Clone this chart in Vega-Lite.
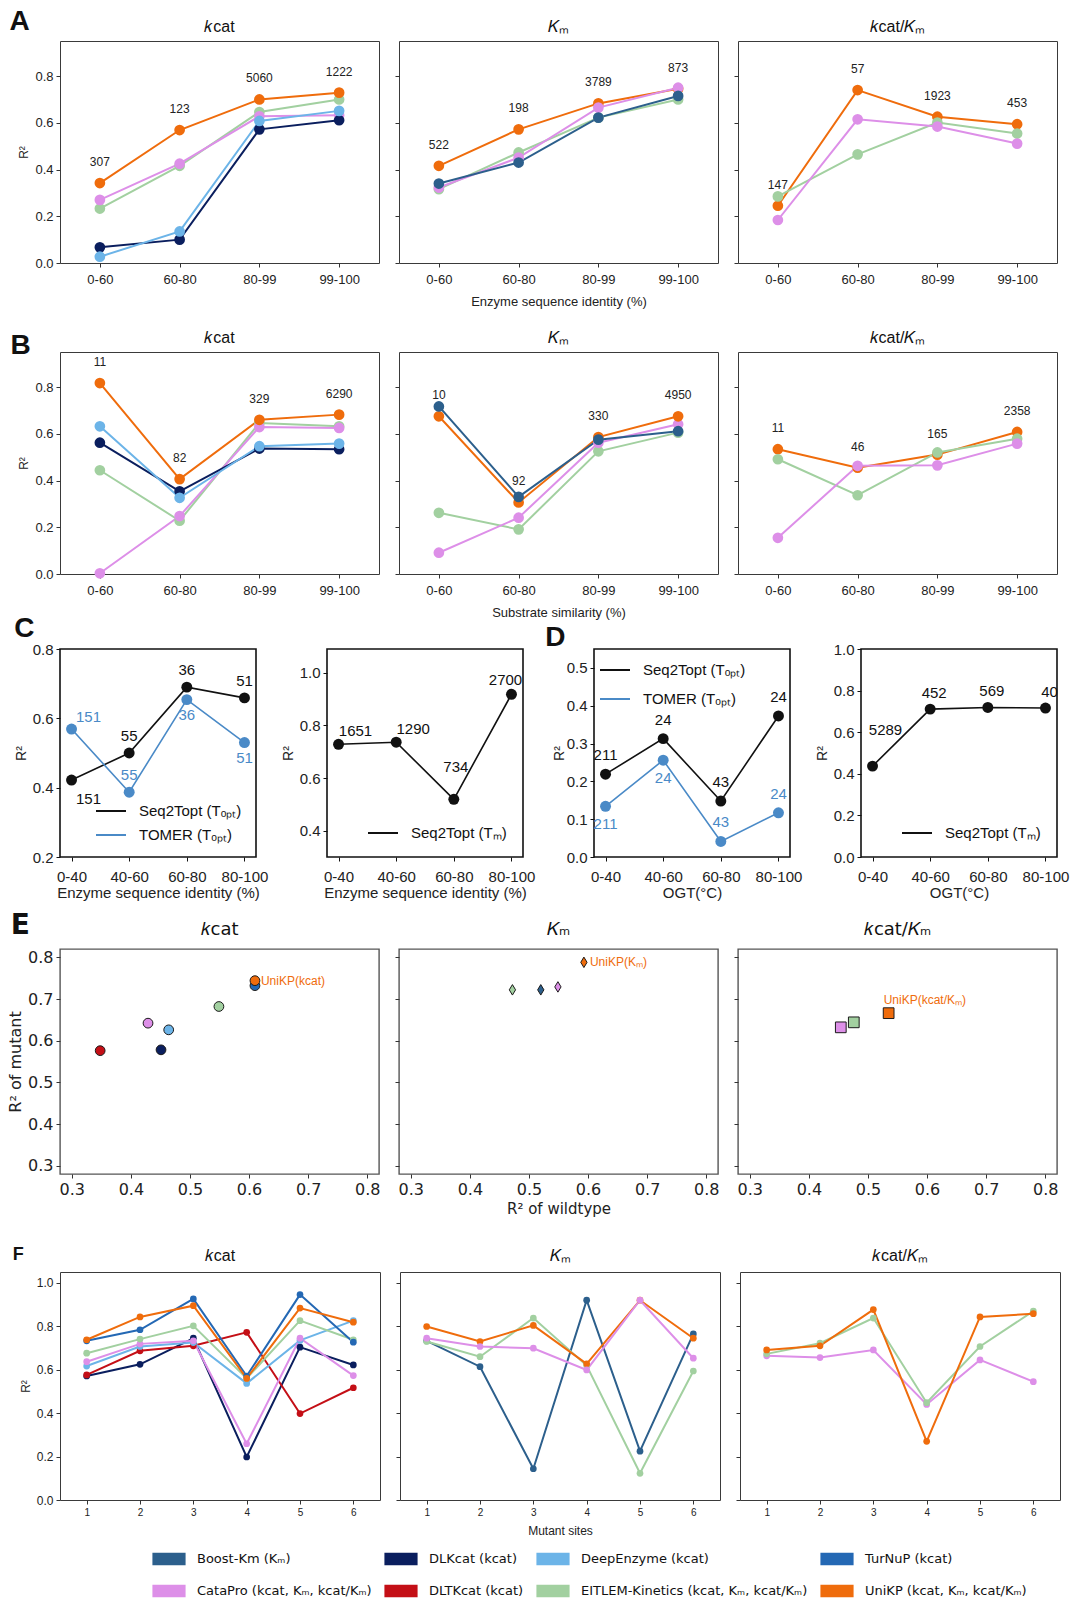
{
 "$schema": "https://vega.github.io/schema/vega-lite/v6.json",
 "background": "white",
 "padding": {"left": 6, "top": 7, "right": 4, "bottom": 2},
 "config": {
  "font": "Liberation Sans",
  "view": {"stroke": "#3a3a3a", "strokeWidth": 1},
  "axis": {"grid": false, "domain": false, "tickColor": "#333", "tickSize": 4, "tickWidth": 1, "labelColor": "#222", "titleColor": "#222", "titleFontWeight": "normal", "labelFont": "Liberation Sans", "titleFont": "Liberation Sans", "labelPadding": 3},
  "title": {"fontWeight": "normal", "color": "#111", "font": "Liberation Sans"},
  "legend": {"labelFont": "Liberation Sans", "labelColor": "#111"}
 },
 "datasets": {
  "ab": [
   {"g":"A-kcat","model":"EITLEM-Kinetics","cat":"0-60","r2":0.233},{"g":"A-kcat","model":"EITLEM-Kinetics","cat":"60-80","r2":0.416},{"g":"A-kcat","model":"EITLEM-Kinetics","cat":"80-99","r2":0.646},{"g":"A-kcat","model":"EITLEM-Kinetics","cat":"99-100","r2":0.700},
   {"g":"A-kcat","model":"CataPro","cat":"0-60","r2":0.270},{"g":"A-kcat","model":"CataPro","cat":"60-80","r2":0.425},{"g":"A-kcat","model":"CataPro","cat":"80-99","r2":0.628},{"g":"A-kcat","model":"CataPro","cat":"99-100","r2":0.632},
   {"g":"A-kcat","model":"DLKcat","cat":"0-60","r2":0.067},{"g":"A-kcat","model":"DLKcat","cat":"60-80","r2":0.100},{"g":"A-kcat","model":"DLKcat","cat":"80-99","r2":0.572},{"g":"A-kcat","model":"DLKcat","cat":"99-100","r2":0.611},
   {"g":"A-kcat","model":"DeepEnzyme","cat":"0-60","r2":0.027},{"g":"A-kcat","model":"DeepEnzyme","cat":"60-80","r2":0.135},{"g":"A-kcat","model":"DeepEnzyme","cat":"80-99","r2":0.608},{"g":"A-kcat","model":"DeepEnzyme","cat":"99-100","r2":0.651},
   {"g":"A-kcat","model":"UniKP","cat":"0-60","r2":0.342,"n":307},{"g":"A-kcat","model":"UniKP","cat":"60-80","r2":0.569,"n":123},{"g":"A-kcat","model":"UniKP","cat":"80-99","r2":0.700,"n":5060},{"g":"A-kcat","model":"UniKP","cat":"99-100","r2":0.729,"n":1222},
   {"g":"A-Km","model":"UniKP","cat":"0-60","r2":0.416,"n":522},{"g":"A-Km","model":"UniKP","cat":"60-80","r2":0.572,"n":198},{"g":"A-Km","model":"UniKP","cat":"80-99","r2":0.683,"n":3789},{"g":"A-Km","model":"UniKP","cat":"99-100","r2":0.746,"n":873},
   {"g":"A-Km","model":"EITLEM-Kinetics","cat":"0-60","r2":0.316},{"g":"A-Km","model":"EITLEM-Kinetics","cat":"60-80","r2":0.473},{"g":"A-Km","model":"EITLEM-Kinetics","cat":"80-99","r2":0.622},{"g":"A-Km","model":"EITLEM-Kinetics","cat":"99-100","r2":0.700},
   {"g":"A-Km","model":"CataPro","cat":"0-60","r2":0.323},{"g":"A-Km","model":"CataPro","cat":"60-80","r2":0.451},{"g":"A-Km","model":"CataPro","cat":"80-99","r2":0.665},{"g":"A-Km","model":"CataPro","cat":"99-100","r2":0.750},
   {"g":"A-Km","model":"Boost-Km","cat":"0-60","r2":0.340},{"g":"A-Km","model":"Boost-Km","cat":"60-80","r2":0.430},{"g":"A-Km","model":"Boost-Km","cat":"80-99","r2":0.622},{"g":"A-Km","model":"Boost-Km","cat":"99-100","r2":0.715},
   {"g":"A-kk","model":"UniKP","cat":"0-60","r2":0.245,"n":147},{"g":"A-kk","model":"UniKP","cat":"60-80","r2":0.740,"n":57},{"g":"A-kk","model":"UniKP","cat":"80-99","r2":0.626,"n":1923},{"g":"A-kk","model":"UniKP","cat":"99-100","r2":0.594,"n":453},
   {"g":"A-kk","model":"EITLEM-Kinetics","cat":"0-60","r2":0.285},{"g":"A-kk","model":"EITLEM-Kinetics","cat":"60-80","r2":0.465},{"g":"A-kk","model":"EITLEM-Kinetics","cat":"80-99","r2":0.601},{"g":"A-kk","model":"EITLEM-Kinetics","cat":"99-100","r2":0.554},
   {"g":"A-kk","model":"CataPro","cat":"0-60","r2":0.184},{"g":"A-kk","model":"CataPro","cat":"60-80","r2":0.615},{"g":"A-kk","model":"CataPro","cat":"80-99","r2":0.584},{"g":"A-kk","model":"CataPro","cat":"99-100","r2":0.511},
   {"g":"B-kcat","model":"EITLEM-Kinetics","cat":"0-60","r2":0.444},{"g":"B-kcat","model":"EITLEM-Kinetics","cat":"60-80","r2":0.228},{"g":"B-kcat","model":"EITLEM-Kinetics","cat":"80-99","r2":0.646},{"g":"B-kcat","model":"EITLEM-Kinetics","cat":"99-100","r2":0.632},
   {"g":"B-kcat","model":"CataPro","cat":"0-60","r2":0.003},{"g":"B-kcat","model":"CataPro","cat":"60-80","r2":0.248},{"g":"B-kcat","model":"CataPro","cat":"80-99","r2":0.629},{"g":"B-kcat","model":"CataPro","cat":"99-100","r2":0.625},
   {"g":"B-kcat","model":"DLKcat","cat":"0-60","r2":0.562},{"g":"B-kcat","model":"DLKcat","cat":"60-80","r2":0.354},{"g":"B-kcat","model":"DLKcat","cat":"80-99","r2":0.537},{"g":"B-kcat","model":"DLKcat","cat":"99-100","r2":0.534},
   {"g":"B-kcat","model":"DeepEnzyme","cat":"0-60","r2":0.632},{"g":"B-kcat","model":"DeepEnzyme","cat":"60-80","r2":0.326},{"g":"B-kcat","model":"DeepEnzyme","cat":"80-99","r2":0.547},{"g":"B-kcat","model":"DeepEnzyme","cat":"99-100","r2":0.558},
   {"g":"B-kcat","model":"UniKP","cat":"0-60","r2":0.817,"n":11},{"g":"B-kcat","model":"UniKP","cat":"60-80","r2":0.406,"n":82},{"g":"B-kcat","model":"UniKP","cat":"80-99","r2":0.660,"n":329},{"g":"B-kcat","model":"UniKP","cat":"99-100","r2":0.682,"n":6290},
   {"g":"B-Km","model":"EITLEM-Kinetics","cat":"0-60","r2":0.262},{"g":"B-Km","model":"EITLEM-Kinetics","cat":"60-80","r2":0.191},{"g":"B-Km","model":"EITLEM-Kinetics","cat":"80-99","r2":0.525},{"g":"B-Km","model":"EITLEM-Kinetics","cat":"99-100","r2":0.605},
   {"g":"B-Km","model":"CataPro","cat":"0-60","r2":0.091},{"g":"B-Km","model":"CataPro","cat":"60-80","r2":0.241},{"g":"B-Km","model":"CataPro","cat":"80-99","r2":0.562},{"g":"B-Km","model":"CataPro","cat":"99-100","r2":0.641},
   {"g":"B-Km","model":"UniKP","cat":"0-60","r2":0.675,"n":10},{"g":"B-Km","model":"UniKP","cat":"60-80","r2":0.306,"n":92},{"g":"B-Km","model":"UniKP","cat":"80-99","r2":0.586,"n":330},{"g":"B-Km","model":"UniKP","cat":"99-100","r2":0.675,"n":4950},
   {"g":"B-Km","model":"Boost-Km","cat":"0-60","r2":0.717},{"g":"B-Km","model":"Boost-Km","cat":"60-80","r2":0.330},{"g":"B-Km","model":"Boost-Km","cat":"80-99","r2":0.575},{"g":"B-Km","model":"Boost-Km","cat":"99-100","r2":0.611},
   {"g":"B-kk","model":"UniKP","cat":"0-60","r2":0.534,"n":11},{"g":"B-kk","model":"UniKP","cat":"60-80","r2":0.455,"n":46},{"g":"B-kk","model":"UniKP","cat":"80-99","r2":0.511,"n":165},{"g":"B-kk","model":"UniKP","cat":"99-100","r2":0.608,"n":2358},
   {"g":"B-kk","model":"EITLEM-Kinetics","cat":"0-60","r2":0.491},{"g":"B-kk","model":"EITLEM-Kinetics","cat":"60-80","r2":0.337},{"g":"B-kk","model":"EITLEM-Kinetics","cat":"80-99","r2":0.520},{"g":"B-kk","model":"EITLEM-Kinetics","cat":"99-100","r2":0.579},
   {"g":"B-kk","model":"CataPro","cat":"0-60","r2":0.155},{"g":"B-kk","model":"CataPro","cat":"60-80","r2":0.463},{"g":"B-kk","model":"CataPro","cat":"80-99","r2":0.465},{"g":"B-kk","model":"CataPro","cat":"99-100","r2":0.558}
  ],
  "cd": [
   {"g":"C1","s":"Seq2Topt (Tₒₚₜ)","cat":"0-40","r2":0.422,"n":151,"pos":"rb"},{"g":"C1","s":"Seq2Topt (Tₒₚₜ)","cat":"40-60","r2":0.500,"n":55,"pos":"above"},{"g":"C1","s":"Seq2Topt (Tₒₚₜ)","cat":"60-80","r2":0.690,"n":36,"pos":"above"},{"g":"C1","s":"Seq2Topt (Tₒₚₜ)","cat":"80-100","r2":0.659,"n":51,"pos":"above"},
   {"g":"C1","s":"TOMER (Tₒₚₜ)","cat":"0-40","r2":0.569,"n":151,"pos":"ra"},{"g":"C1","s":"TOMER (Tₒₚₜ)","cat":"40-60","r2":0.387,"n":55,"pos":"above"},{"g":"C1","s":"TOMER (Tₒₚₜ)","cat":"60-80","r2":0.654,"n":36,"pos":"below"},{"g":"C1","s":"TOMER (Tₒₚₜ)","cat":"80-100","r2":0.530,"n":51,"pos":"below"},
   {"g":"C2","s":"Seq2Topt (Tₘ)","cat":"0-40","r2":0.728,"n":1651,"pos":"ra"},{"g":"C2","s":"Seq2Topt (Tₘ)","cat":"40-60","r2":0.736,"n":1290,"pos":"ra"},{"g":"C2","s":"Seq2Topt (Tₘ)","cat":"60-80","r2":0.519,"n":734,"pos":"far"},{"g":"C2","s":"Seq2Topt (Tₘ)","cat":"80-100","r2":0.918,"n":2700,"pos":"al"},
   {"g":"D1","s":"Seq2Topt (Tₒₚₜ)","cat":"0-40","r2":0.219,"n":211,"pos":"above"},{"g":"D1","s":"Seq2Topt (Tₒₚₜ)","cat":"40-60","r2":0.313,"n":24,"pos":"above"},{"g":"D1","s":"Seq2Topt (Tₒₚₜ)","cat":"60-80","r2":0.148,"n":43,"pos":"above"},{"g":"D1","s":"Seq2Topt (Tₒₚₜ)","cat":"80-100","r2":0.373,"n":24,"pos":"above"},
   {"g":"D1","s":"TOMER (Tₒₚₜ)","cat":"0-40","r2":0.134,"n":211,"pos":"below"},{"g":"D1","s":"TOMER (Tₒₚₜ)","cat":"40-60","r2":0.256,"n":24,"pos":"below"},{"g":"D1","s":"TOMER (Tₒₚₜ)","cat":"60-80","r2":0.041,"n":43,"pos":"above"},{"g":"D1","s":"TOMER (Tₒₚₜ)","cat":"80-100","r2":0.117,"n":24,"pos":"above"},
   {"g":"D2","s":"Seq2Topt (Tₘ)","cat":"0-40","r2":0.437,"n":5289,"pos":"far"},{"g":"D2","s":"Seq2Topt (Tₘ)","cat":"40-60","r2":0.711,"n":452,"pos":"above"},{"g":"D2","s":"Seq2Topt (Tₘ)","cat":"60-80","r2":0.719,"n":569,"pos":"above"},{"g":"D2","s":"Seq2Topt (Tₘ)","cat":"80-100","r2":0.716,"n":40,"pos":"above"}
  ],
  "e": [
   {"g":"kcat","model":"DLTKcat","wt":0.348,"mut":0.576},{"g":"kcat","model":"DLKcat","wt":0.451,"mut":0.578},{"g":"kcat","model":"DeepEnzyme","wt":0.464,"mut":0.626},{"g":"kcat","model":"CataPro","wt":0.429,"mut":0.642},{"g":"kcat","model":"EITLEM-Kinetics","wt":0.549,"mut":0.682},{"g":"kcat","model":"TurNuP","wt":0.610,"mut":0.732},{"g":"kcat","model":"UniKP","wt":0.610,"mut":0.744,"lab":"UniKP(kcat)"},
   {"g":"Km","model":"EITLEM-Kinetics","wt":0.472,"mut":0.722},{"g":"Km","model":"Boost-Km","wt":0.520,"mut":0.722},{"g":"Km","model":"CataPro","wt":0.549,"mut":0.729},{"g":"Km","model":"UniKP","wt":0.593,"mut":0.788,"lab":"UniKP(Kₘ)"},
   {"g":"kk","model":"CataPro","wt":0.454,"mut":0.632},{"g":"kk","model":"EITLEM-Kinetics","wt":0.476,"mut":0.644},{"g":"kk","model":"UniKP","wt":0.535,"mut":0.666,"lab":"UniKP(kcat/Kₘ)"}
  ],
  "f": [
   {"g":"kcat","model":"DLKcat","site":1,"r2":0.571},{"g":"kcat","model":"DLKcat","site":2,"r2":0.625},{"g":"kcat","model":"DLKcat","site":3,"r2":0.745},{"g":"kcat","model":"DLKcat","site":4,"r2":0.198},{"g":"kcat","model":"DLKcat","site":5,"r2":0.704},{"g":"kcat","model":"DLKcat","site":6,"r2":0.622},
   {"g":"kcat","model":"DLTKcat","site":1,"r2":0.576},{"g":"kcat","model":"DLTKcat","site":2,"r2":0.687},{"g":"kcat","model":"DLTKcat","site":3,"r2":0.710},{"g":"kcat","model":"DLTKcat","site":4,"r2":0.772},{"g":"kcat","model":"DLTKcat","site":5,"r2":0.398},{"g":"kcat","model":"DLTKcat","site":6,"r2":0.517},
   {"g":"kcat","model":"DeepEnzyme","site":1,"r2":0.617},{"g":"kcat","model":"DeepEnzyme","site":2,"r2":0.707},{"g":"kcat","model":"DeepEnzyme","site":3,"r2":0.725},{"g":"kcat","model":"DeepEnzyme","site":4,"r2":0.537},{"g":"kcat","model":"DeepEnzyme","site":5,"r2":0.735},{"g":"kcat","model":"DeepEnzyme","site":6,"r2":0.826},
   {"g":"kcat","model":"CataPro","site":1,"r2":0.637},{"g":"kcat","model":"CataPro","site":2,"r2":0.719},{"g":"kcat","model":"CataPro","site":3,"r2":0.733},{"g":"kcat","model":"CataPro","site":4,"r2":0.259},{"g":"kcat","model":"CataPro","site":5,"r2":0.745},{"g":"kcat","model":"CataPro","site":6,"r2":0.573},
   {"g":"kcat","model":"EITLEM-Kinetics","site":1,"r2":0.676},{"g":"kcat","model":"EITLEM-Kinetics","site":2,"r2":0.741},{"g":"kcat","model":"EITLEM-Kinetics","site":3,"r2":0.802},{"g":"kcat","model":"EITLEM-Kinetics","site":4,"r2":0.560},{"g":"kcat","model":"EITLEM-Kinetics","site":5,"r2":0.826},{"g":"kcat","model":"EITLEM-Kinetics","site":6,"r2":0.738},
   {"g":"kcat","model":"TurNuP","site":1,"r2":0.733},{"g":"kcat","model":"TurNuP","site":2,"r2":0.784},{"g":"kcat","model":"TurNuP","site":3,"r2":0.926},{"g":"kcat","model":"TurNuP","site":4,"r2":0.571},{"g":"kcat","model":"TurNuP","site":5,"r2":0.946},{"g":"kcat","model":"TurNuP","site":6,"r2":0.727},
   {"g":"kcat","model":"UniKP","site":1,"r2":0.738},{"g":"kcat","model":"UniKP","site":2,"r2":0.843},{"g":"kcat","model":"UniKP","site":3,"r2":0.895},{"g":"kcat","model":"UniKP","site":4,"r2":0.560},{"g":"kcat","model":"UniKP","site":5,"r2":0.884},{"g":"kcat","model":"UniKP","site":6,"r2":0.819},
   {"g":"Km","model":"Boost-Km","site":1,"r2":0.733},{"g":"Km","model":"Boost-Km","site":2,"r2":0.614},{"g":"Km","model":"Boost-Km","site":3,"r2":0.144},{"g":"Km","model":"Boost-Km","site":4,"r2":0.920},{"g":"Km","model":"Boost-Km","site":5,"r2":0.225},{"g":"Km","model":"Boost-Km","site":6,"r2":0.765},
   {"g":"Km","model":"EITLEM-Kinetics","site":1,"r2":0.730},{"g":"Km","model":"EITLEM-Kinetics","site":2,"r2":0.660},{"g":"Km","model":"EITLEM-Kinetics","site":3,"r2":0.838},{"g":"Km","model":"EITLEM-Kinetics","site":4,"r2":0.619},{"g":"Km","model":"EITLEM-Kinetics","site":5,"r2":0.123},{"g":"Km","model":"EITLEM-Kinetics","site":6,"r2":0.594},
   {"g":"Km","model":"UniKP","site":1,"r2":0.799},{"g":"Km","model":"UniKP","site":2,"r2":0.730},{"g":"Km","model":"UniKP","site":3,"r2":0.804},{"g":"Km","model":"UniKP","site":4,"r2":0.627},{"g":"Km","model":"UniKP","site":5,"r2":0.920},{"g":"Km","model":"UniKP","site":6,"r2":0.745},
   {"g":"Km","model":"CataPro","site":1,"r2":0.745},{"g":"Km","model":"CataPro","site":2,"r2":0.707},{"g":"Km","model":"CataPro","site":3,"r2":0.699},{"g":"Km","model":"CataPro","site":4,"r2":0.599},{"g":"Km","model":"CataPro","site":5,"r2":0.920},{"g":"Km","model":"CataPro","site":6,"r2":0.653},
   {"g":"kk","model":"CataPro","site":1,"r2":0.664},{"g":"kk","model":"CataPro","site":2,"r2":0.656},{"g":"kk","model":"CataPro","site":3,"r2":0.691},{"g":"kk","model":"CataPro","site":4,"r2":0.440},{"g":"kk","model":"CataPro","site":5,"r2":0.645},{"g":"kk","model":"CataPro","site":6,"r2":0.545},
   {"g":"kk","model":"EITLEM-Kinetics","site":1,"r2":0.673},{"g":"kk","model":"EITLEM-Kinetics","site":2,"r2":0.722},{"g":"kk","model":"EITLEM-Kinetics","site":3,"r2":0.838},{"g":"kk","model":"EITLEM-Kinetics","site":4,"r2":0.448},{"g":"kk","model":"EITLEM-Kinetics","site":5,"r2":0.707},{"g":"kk","model":"EITLEM-Kinetics","site":6,"r2":0.870},
   {"g":"kk","model":"UniKP","site":1,"r2":0.691},{"g":"kk","model":"UniKP","site":2,"r2":0.710},{"g":"kk","model":"UniKP","site":3,"r2":0.877},{"g":"kk","model":"UniKP","site":4,"r2":0.270},{"g":"kk","model":"UniKP","site":5,"r2":0.843},{"g":"kk","model":"UniKP","site":6,"r2":0.858}
  ]
 },
 "spacing": 20,
 "resolve": {"scale": {"color": "independent"}},
 "vconcat": [
  {
   "title": {"text": "A", "anchor": "start", "frame": "bounds", "fontSize": 28, "fontWeight": "bold", "offset": -17, "dx": -8},
   "bounds": "flush", "spacing": 20,
   "hconcat": [
    {"width": 319, "height": 222, "title": {"text": "𝑘cat", "fontSize": 16, "offset": 6},
     "data": {"name": "ab"}, "transform": [{"filter": "datum.g == 'A-kcat'"}],
     "encoding": {
      "x": {"field": "cat", "type": "ordinal", "scale": {"type": "point", "padding": 0.5, "domain": ["0-60","60-80","80-99","99-100"]}, "axis": {"title": null, "labelAngle": 0, "labelFontSize": 13, "labelPadding": 6}},
      "y": {"field": "r2", "type": "quantitative", "scale": {"domain": [0, 0.95], "nice": false}, "axis": {"title": "R²", "values": [0,0.2,0.4,0.6,0.8], "format": ".1f", "labelFontSize": 13, "titleFontSize": 12}},
      "color": {"field": "model", "type": "nominal", "scale": {"domain": ["Boost-Km","DLKcat","DeepEnzyme","TurNuP","CataPro","DLTKcat","EITLEM-Kinetics","UniKP"], "range": ["#2c5f8c","#0a1e5e","#6cb4e8","#2468b4","#dd8fe8","#c40f16","#a2d0a0","#ef6c0c"]}, "legend": null}
     },
     "layer": [
      {"mark": {"type": "line", "strokeWidth": 2}},
      {"mark": {"type": "circle", "size": 115, "opacity": 1}},
      {"transform": [{"filter": "datum.model == 'UniKP'"}], "mark": {"type": "text", "dy": -21, "fontSize": 12}, "encoding": {"text": {"field": "n", "type": "quantitative", "format": "d"}, "color": {"value": "#222"}}}
     ]},
    {"width": 319, "height": 222, "title": {"text": "𝐾ₘ", "fontSize": 16, "offset": 6},
     "data": {"name": "ab"}, "transform": [{"filter": "datum.g == 'A-Km'"}],
     "encoding": {
      "x": {"field": "cat", "type": "ordinal", "scale": {"type": "point", "padding": 0.5, "domain": ["0-60","60-80","80-99","99-100"]}, "axis": {"title": "Enzyme sequence identity (%)", "labelAngle": 0, "labelFontSize": 13, "labelPadding": 6, "titleFontSize": 13, "titlePadding": 9}},
      "y": {"field": "r2", "type": "quantitative", "scale": {"domain": [0, 0.95], "nice": false}, "axis": {"title": null, "values": [0,0.2,0.4,0.6,0.8], "labels": false}},
      "color": {"field": "model", "type": "nominal", "scale": {"domain": ["Boost-Km","DLKcat","DeepEnzyme","TurNuP","CataPro","DLTKcat","EITLEM-Kinetics","UniKP"], "range": ["#2c5f8c","#0a1e5e","#6cb4e8","#2468b4","#dd8fe8","#c40f16","#a2d0a0","#ef6c0c"]}, "legend": null}
     },
     "layer": [
      {"mark": {"type": "line", "strokeWidth": 2}},
      {"mark": {"type": "circle", "size": 115, "opacity": 1}},
      {"transform": [{"filter": "datum.model == 'UniKP'"}], "mark": {"type": "text", "dy": -21, "fontSize": 12}, "encoding": {"text": {"field": "n", "type": "quantitative", "format": "d"}, "color": {"value": "#222"}}}
     ]},
    {"width": 319, "height": 222, "title": {"text": "𝑘cat/𝐾ₘ", "fontSize": 16, "offset": 6},
     "data": {"name": "ab"}, "transform": [{"filter": "datum.g == 'A-kk'"}],
     "encoding": {
      "x": {"field": "cat", "type": "ordinal", "scale": {"type": "point", "padding": 0.5, "domain": ["0-60","60-80","80-99","99-100"]}, "axis": {"title": null, "labelAngle": 0, "labelFontSize": 13, "labelPadding": 6}},
      "y": {"field": "r2", "type": "quantitative", "scale": {"domain": [0, 0.95], "nice": false}, "axis": {"title": null, "values": [0,0.2,0.4,0.6,0.8], "labels": false}},
      "color": {"field": "model", "type": "nominal", "scale": {"domain": ["Boost-Km","DLKcat","DeepEnzyme","TurNuP","CataPro","DLTKcat","EITLEM-Kinetics","UniKP"], "range": ["#2c5f8c","#0a1e5e","#6cb4e8","#2468b4","#dd8fe8","#c40f16","#a2d0a0","#ef6c0c"]}, "legend": null}
     },
     "layer": [
      {"mark": {"type": "line", "strokeWidth": 2}},
      {"mark": {"type": "circle", "size": 115, "opacity": 1}},
      {"transform": [{"filter": "datum.model == 'UniKP'"}], "mark": {"type": "text", "dy": -21, "fontSize": 12}, "encoding": {"text": {"field": "n", "type": "quantitative", "format": "d"}, "color": {"value": "#222"}}}
     ]}
   ]
  },
  {
   "spacing": -6,
   "resolve": {"scale": {"color": "independent"}},
   "vconcat": [
    {
     "title": {"text": "B", "anchor": "start", "frame": "bounds", "fontSize": 28, "fontWeight": "bold", "offset": -30, "dx": -7},
     "bounds": "flush", "spacing": 20,
     "hconcat": [
      {"width": 319, "height": 222, "title": {"text": "𝑘cat", "fontSize": 16, "offset": 6},
       "data": {"name": "ab"}, "transform": [{"filter": "datum.g == 'B-kcat'"}],
       "encoding": {
        "x": {"field": "cat", "type": "ordinal", "scale": {"type": "point", "padding": 0.5, "domain": ["0-60","60-80","80-99","99-100"]}, "axis": {"title": null, "labelAngle": 0, "labelFontSize": 13, "labelPadding": 6}},
        "y": {"field": "r2", "type": "quantitative", "scale": {"domain": [0, 0.95], "nice": false}, "axis": {"title": "R²", "values": [0,0.2,0.4,0.6,0.8], "format": ".1f", "labelFontSize": 13, "titleFontSize": 12}},
        "color": {"field": "model", "type": "nominal", "scale": {"domain": ["Boost-Km","DLKcat","DeepEnzyme","TurNuP","CataPro","DLTKcat","EITLEM-Kinetics","UniKP"], "range": ["#2c5f8c","#0a1e5e","#6cb4e8","#2468b4","#dd8fe8","#c40f16","#a2d0a0","#ef6c0c"]}, "legend": null}
       },
       "layer": [
        {"mark": {"type": "line", "strokeWidth": 2}},
        {"mark": {"type": "circle", "size": 115, "opacity": 1}},
        {"transform": [{"filter": "datum.model == 'UniKP'"}], "mark": {"type": "text", "dy": -21, "fontSize": 12}, "encoding": {"text": {"field": "n", "type": "quantitative", "format": "d"}, "color": {"value": "#222"}}}
       ]},
      {"width": 319, "height": 222, "title": {"text": "𝐾ₘ", "fontSize": 16, "offset": 6},
       "data": {"name": "ab"}, "transform": [{"filter": "datum.g == 'B-Km'"}],
       "encoding": {
        "x": {"field": "cat", "type": "ordinal", "scale": {"type": "point", "padding": 0.5, "domain": ["0-60","60-80","80-99","99-100"]}, "axis": {"title": "Substrate similarity (%)", "labelAngle": 0, "labelFontSize": 13, "labelPadding": 6, "titleFontSize": 13, "titlePadding": 9}},
        "y": {"field": "r2", "type": "quantitative", "scale": {"domain": [0, 0.95], "nice": false}, "axis": {"title": null, "values": [0,0.2,0.4,0.6,0.8], "labels": false}},
        "color": {"field": "model", "type": "nominal", "scale": {"domain": ["Boost-Km","DLKcat","DeepEnzyme","TurNuP","CataPro","DLTKcat","EITLEM-Kinetics","UniKP"], "range": ["#2c5f8c","#0a1e5e","#6cb4e8","#2468b4","#dd8fe8","#c40f16","#a2d0a0","#ef6c0c"]}, "legend": null}
       },
       "layer": [
        {"mark": {"type": "line", "strokeWidth": 2}},
        {"mark": {"type": "circle", "size": 115, "opacity": 1}},
        {"transform": [{"filter": "datum.model == 'UniKP'"}], "mark": {"type": "text", "dy": -21, "fontSize": 12}, "encoding": {"text": {"field": "n", "type": "quantitative", "format": "d"}, "color": {"value": "#222"}}}
       ]},
      {"width": 319, "height": 222, "title": {"text": "𝑘cat/𝐾ₘ", "fontSize": 16, "offset": 6},
       "data": {"name": "ab"}, "transform": [{"filter": "datum.g == 'B-kk'"}],
       "encoding": {
        "x": {"field": "cat", "type": "ordinal", "scale": {"type": "point", "padding": 0.5, "domain": ["0-60","60-80","80-99","99-100"]}, "axis": {"title": null, "labelAngle": 0, "labelFontSize": 13, "labelPadding": 6}},
        "y": {"field": "r2", "type": "quantitative", "scale": {"domain": [0, 0.95], "nice": false}, "axis": {"title": null, "values": [0,0.2,0.4,0.6,0.8], "labels": false}},
        "color": {"field": "model", "type": "nominal", "scale": {"domain": ["Boost-Km","DLKcat","DeepEnzyme","TurNuP","CataPro","DLTKcat","EITLEM-Kinetics","UniKP"], "range": ["#2c5f8c","#0a1e5e","#6cb4e8","#2468b4","#dd8fe8","#c40f16","#a2d0a0","#ef6c0c"]}, "legend": null}
       },
       "layer": [
        {"mark": {"type": "line", "strokeWidth": 2}},
        {"mark": {"type": "circle", "size": 115, "opacity": 1}},
        {"transform": [{"filter": "datum.model == 'UniKP'"}], "mark": {"type": "text", "dy": -21, "fontSize": 12}, "encoding": {"text": {"field": "n", "type": "quantitative", "format": "d"}, "color": {"value": "#222"}}}
       ]}
     ]
    },
    {
     "spacing": 11,
     "resolve": {"scale": {"color": "independent"}},
     "vconcat": [
      {
       "bounds": "flush", "spacing": 71,
       "resolve": {"scale": {"color": "independent"}},
       "hconcat": [
        {"width": 196, "height": 208, "title": {"text": "C", "anchor": "start", "frame": "bounds", "fontSize": 28, "fontWeight": "bold", "offset": -1},
         "view": {"stroke": "#111", "strokeWidth": 1.6},
         "data": {"name": "cd"}, "transform": [{"filter": "datum.g == 'C1'"}],
         "encoding": {
          "x": {"field": "cat", "type": "ordinal", "scale": {"type": "point", "padding": 0.2, "domain": ["0-40","40-60","60-80","80-100"]}, "axis": {"title": "Enzyme sequence identity (%)", "labelAngle": 0, "labelFontSize": 15, "labelPadding": 8, "titleFontSize": 15, "titlePadding": 1, "tickColor": "#111"}},
          "y": {"field": "r2", "type": "quantitative", "scale": {"domain": [0.2, 0.8], "nice": false, "zero": false}, "axis": {"title": "R²", "values": [0.2,0.4,0.6,0.8], "format": ".1f", "labelFontSize": 15, "titleFontSize": 14, "tickColor": "#111"}},
          "color": {"field": "s", "type": "nominal", "scale": {"domain": ["Seq2Topt (Tₒₚₜ)","TOMER (Tₒₚₜ)"], "range": ["#111111","#4a8ac7"]}, "legend": {"orient": "bottom-right", "offset": 14, "title": null, "symbolType": "stroke", "symbolSize": 900, "symbolStrokeWidth": 2, "labelFontSize": 15, "labelOffset": 12, "rowPadding": 0, "padding": 0}}
         },
         "layer": [
          {"mark": {"type": "line", "strokeWidth": 1.6}},
          {"mark": {"type": "circle", "size": 120, "opacity": 1}},
          {"transform": [{"filter": "datum.pos == 'above'"}], "mark": {"type": "text", "dy": -17, "fontSize": 15}, "encoding": {"text": {"field": "n", "type": "quantitative", "format": "d"}}},
          {"transform": [{"filter": "datum.pos == 'below'"}], "mark": {"type": "text", "dy": 15, "fontSize": 15}, "encoding": {"text": {"field": "n", "type": "quantitative", "format": "d"}}},
          {"transform": [{"filter": "datum.pos == 'ra'"}], "mark": {"type": "text", "dx": 17, "dy": -12, "fontSize": 15}, "encoding": {"text": {"field": "n", "type": "quantitative", "format": "d"}}},
          {"transform": [{"filter": "datum.pos == 'rb'"}], "mark": {"type": "text", "dx": 17, "dy": 19, "fontSize": 15}, "encoding": {"text": {"field": "n", "type": "quantitative", "format": "d"}}}
         ]},
        {"width": 196, "height": 208,
         "view": {"stroke": "#111", "strokeWidth": 1.6},
         "data": {"name": "cd"}, "transform": [{"filter": "datum.g == 'C2'"}],
         "encoding": {
          "x": {"field": "cat", "type": "ordinal", "scale": {"type": "point", "padding": 0.2, "domain": ["0-40","40-60","60-80","80-100"]}, "axis": {"title": "Enzyme sequence identity (%)", "labelAngle": 0, "labelFontSize": 15, "labelPadding": 8, "titleFontSize": 15, "titlePadding": 1, "tickColor": "#111"}},
          "y": {"field": "r2", "type": "quantitative", "scale": {"domain": [0.3, 1.09], "nice": false, "zero": false}, "axis": {"title": "R²", "values": [0.4,0.6,0.8,1.0], "format": ".1f", "labelFontSize": 15, "titleFontSize": 14, "tickColor": "#111"}},
          "color": {"field": "s", "type": "nominal", "scale": {"domain": ["Seq2Topt (Tₘ)"], "range": ["#111111"]}, "legend": {"orient": "bottom-right", "offset": 16, "title": null, "symbolType": "stroke", "symbolSize": 900, "symbolStrokeWidth": 2, "labelFontSize": 15, "labelOffset": 12, "padding": 0}}
         },
         "layer": [
          {"mark": {"type": "line", "strokeWidth": 1.6}},
          {"mark": {"type": "circle", "size": 120, "opacity": 1}},
          {"transform": [{"filter": "datum.pos == 'ra'"}], "mark": {"type": "text", "dx": 17, "dy": -13, "fontSize": 15}, "encoding": {"text": {"field": "n", "type": "quantitative", "format": "d"}}},
          {"transform": [{"filter": "datum.pos == 'far'"}], "mark": {"type": "text", "dx": 2, "dy": -32, "fontSize": 15}, "encoding": {"text": {"field": "n", "type": "quantitative", "format": "d"}}},
          {"transform": [{"filter": "datum.pos == 'al'"}], "mark": {"type": "text", "dx": -6, "dy": -14, "fontSize": 15}, "encoding": {"text": {"field": "n", "type": "quantitative", "format": "d"}}}
         ]},
        {"width": 196, "height": 208, "title": {"text": "D", "anchor": "start", "frame": "bounds", "fontSize": 28, "fontWeight": "bold", "offset": -3, "dx": -7},
         "view": {"stroke": "#111", "strokeWidth": 1.6},
         "data": {"name": "cd"}, "transform": [{"filter": "datum.g == 'D1'"}],
         "encoding": {
          "x": {"field": "cat", "type": "ordinal", "scale": {"type": "point", "padding": 0.2, "domain": ["0-40","40-60","60-80","80-100"]}, "axis": {"title": "OGT(°C)", "labelAngle": 0, "labelFontSize": 15, "labelPadding": 8, "titleFontSize": 15, "titlePadding": 1, "tickColor": "#111"}},
          "y": {"field": "r2", "type": "quantitative", "scale": {"domain": [0, 0.55], "nice": false}, "axis": {"title": "R²", "values": [0,0.1,0.2,0.3,0.4,0.5], "format": ".1f", "labelFontSize": 15, "titleFontSize": 14, "titlePadding": 0, "tickColor": "#111"}},
          "color": {"field": "s", "type": "nominal", "scale": {"domain": ["Seq2Topt (Tₒₚₜ)","TOMER (Tₒₚₜ)"], "range": ["#111111","#4a8ac7"]}, "legend": {"orient": "top-left", "offset": 5, "title": null, "symbolType": "stroke", "symbolSize": 900, "symbolStrokeWidth": 2, "labelFontSize": 15, "labelOffset": 12, "rowPadding": 5, "padding": 0}}
         },
         "layer": [
          {"mark": {"type": "line", "strokeWidth": 1.6}},
          {"mark": {"type": "circle", "size": 120, "opacity": 1}},
          {"transform": [{"filter": "datum.pos == 'above'"}], "mark": {"type": "text", "dy": -19, "fontSize": 15}, "encoding": {"text": {"field": "n", "type": "quantitative", "format": "d"}}},
          {"transform": [{"filter": "datum.pos == 'below'"}], "mark": {"type": "text", "dy": 18, "fontSize": 15}, "encoding": {"text": {"field": "n", "type": "quantitative", "format": "d"}}}
         ]},
        {"width": 196, "height": 208,
         "view": {"stroke": "#111", "strokeWidth": 1.6},
         "data": {"name": "cd"}, "transform": [{"filter": "datum.g == 'D2'"}],
         "encoding": {
          "x": {"field": "cat", "type": "ordinal", "scale": {"type": "point", "padding": 0.2, "domain": ["0-40","40-60","60-80","80-100"]}, "axis": {"title": "OGT(°C)", "labelAngle": 0, "labelFontSize": 15, "labelPadding": 8, "titleFontSize": 15, "titlePadding": 1, "tickColor": "#111"}},
          "y": {"field": "r2", "type": "quantitative", "scale": {"domain": [0, 1.0], "nice": false}, "axis": {"title": "R²", "values": [0,0.2,0.4,0.6,0.8,1.0], "format": ".1f", "labelFontSize": 15, "titleFontSize": 14, "tickColor": "#111"}},
          "color": {"field": "s", "type": "nominal", "scale": {"domain": ["Seq2Topt (Tₘ)"], "range": ["#111111"]}, "legend": {"orient": "bottom-right", "offset": 16, "title": null, "symbolType": "stroke", "symbolSize": 900, "symbolStrokeWidth": 2, "labelFontSize": 15, "labelOffset": 12, "padding": 0}}
         },
         "layer": [
          {"mark": {"type": "line", "strokeWidth": 1.6}},
          {"mark": {"type": "circle", "size": 120, "opacity": 1}},
          {"transform": [{"filter": "datum.pos == 'above'"}], "mark": {"type": "text", "dx": 4, "dy": -16, "fontSize": 15}, "encoding": {"text": {"field": "n", "type": "quantitative", "format": "d"}}},
          {"transform": [{"filter": "datum.pos == 'far'"}], "mark": {"type": "text", "dx": 13, "dy": -36, "fontSize": 15}, "encoding": {"text": {"field": "n", "type": "quantitative", "format": "d"}}}
         ]}
       ]
      },
      {
       "spacing": 28,
       "resolve": {"scale": {"color": "independent"}},
       "vconcat": [
        {
         "title": {"text": "E", "anchor": "start", "frame": "bounds", "fontSize": 28, "fontWeight": "bold", "font": "DejaVu Sans", "offset": -20, "dx": 4},
         "bounds": "flush", "spacing": 20,
         "hconcat": [
          {"width": 319, "height": 225, "title": {"text": "𝑘cat", "fontSize": 18, "font": "DejaVu Sans", "offset": 10},
           "view": {"stroke": "#555", "strokeWidth": 1.4},
           "layer": [
            {"mark": {"type": "rule", "strokeDash": [6, 4], "color": "#bdbdbd", "strokeWidth": 1.5}, "encoding": {"x": {"datum": 0.28, "type": "quantitative"}, "y": {"datum": 0.28, "type": "quantitative"}, "x2": {"datum": 0.82}, "y2": {"datum": 0.82}}},
            {"data": {"name": "e"}, "transform": [{"filter": "datum.g == 'kcat'"}],
             "mark": {"type": "point", "filled": true, "shape": "circle", "size": 95, "stroke": "#1a1a1a", "strokeWidth": 1, "opacity": 1},
             "encoding": {
              "x": {"field": "wt", "type": "quantitative", "scale": {"domain": [0.28, 0.82], "nice": false, "zero": false}, "axis": {"title": null, "values": [0.3,0.4,0.5,0.6,0.7,0.8], "format": ".1f", "labelFont": "DejaVu Sans", "labelFontSize": 16}},
              "y": {"field": "mut", "type": "quantitative", "scale": {"domain": [0.28, 0.82], "nice": false, "zero": false}, "axis": {"title": "R² of mutant", "values": [0.3,0.4,0.5,0.6,0.7,0.8], "format": ".1f", "labelFont": "DejaVu Sans", "labelFontSize": 16, "titleFont": "DejaVu Sans", "titleFontSize": 16}},
              "color": {"field": "model", "type": "nominal", "scale": {"domain": ["Boost-Km","DLKcat","DeepEnzyme","TurNuP","CataPro","DLTKcat","EITLEM-Kinetics","UniKP"], "range": ["#2c5f8c","#0a1e5e","#6cb4e8","#2468b4","#dd8fe8","#c40f16","#a2d0a0","#ef6c0c"]}, "legend": null}
             }},
            {"data": {"name": "e"}, "transform": [{"filter": "datum.g == 'kcat' && datum.lab"}],
             "mark": {"type": "text", "align": "left", "dx": 6, "fontSize": 12, "color": "#ef6c0c"},
             "encoding": {"x": {"field": "wt", "type": "quantitative"}, "y": {"field": "mut", "type": "quantitative"}, "text": {"field": "lab"}}}
           ]},
          {"width": 319, "height": 225, "title": {"text": "𝐾ₘ", "fontSize": 18, "font": "DejaVu Sans", "offset": 10},
           "view": {"stroke": "#555", "strokeWidth": 1.4},
           "layer": [
            {"mark": {"type": "rule", "strokeDash": [6, 4], "color": "#bdbdbd", "strokeWidth": 1.5}, "encoding": {"x": {"datum": 0.28, "type": "quantitative"}, "y": {"datum": 0.28, "type": "quantitative"}, "x2": {"datum": 0.82}, "y2": {"datum": 0.82}}},
            {"data": {"name": "e"}, "transform": [{"filter": "datum.g == 'Km'"}],
             "mark": {"type": "point", "filled": true, "shape": "M0,-1L0.6,0L0,1L-0.6,0Z", "size": 110, "stroke": "#1a1a1a", "strokeWidth": 1, "opacity": 1},
             "encoding": {
              "x": {"field": "wt", "type": "quantitative", "scale": {"domain": [0.28, 0.82], "nice": false, "zero": false}, "axis": {"title": "R² of wildtype", "values": [0.3,0.4,0.5,0.6,0.7,0.8], "format": ".1f", "labelFont": "DejaVu Sans", "labelFontSize": 16, "titleFont": "DejaVu Sans", "titleFontSize": 15, "titlePadding": 4}},
              "y": {"field": "mut", "type": "quantitative", "scale": {"domain": [0.28, 0.82], "nice": false, "zero": false}, "axis": {"title": null, "values": [0.3,0.4,0.5,0.6,0.7,0.8], "labels": false}},
              "color": {"field": "model", "type": "nominal", "scale": {"domain": ["Boost-Km","DLKcat","DeepEnzyme","TurNuP","CataPro","DLTKcat","EITLEM-Kinetics","UniKP"], "range": ["#2c5f8c","#0a1e5e","#6cb4e8","#2468b4","#dd8fe8","#c40f16","#a2d0a0","#ef6c0c"]}, "legend": null}
             }},
            {"data": {"name": "e"}, "transform": [{"filter": "datum.g == 'Km' && datum.lab"}],
             "mark": {"type": "text", "align": "left", "dx": 6, "fontSize": 12, "color": "#ef6c0c"},
             "encoding": {"x": {"field": "wt", "type": "quantitative"}, "y": {"field": "mut", "type": "quantitative"}, "text": {"field": "lab"}}}
           ]},
          {"width": 319, "height": 225, "title": {"text": "𝑘cat/𝐾ₘ", "fontSize": 18, "font": "DejaVu Sans", "offset": 10},
           "view": {"stroke": "#555", "strokeWidth": 1.4},
           "layer": [
            {"mark": {"type": "rule", "strokeDash": [6, 4], "color": "#bdbdbd", "strokeWidth": 1.5}, "encoding": {"x": {"datum": 0.28, "type": "quantitative"}, "y": {"datum": 0.28, "type": "quantitative"}, "x2": {"datum": 0.82}, "y2": {"datum": 0.82}}},
            {"data": {"name": "e"}, "transform": [{"filter": "datum.g == 'kk'"}],
             "mark": {"type": "point", "filled": true, "shape": "square", "size": 115, "stroke": "#1a1a1a", "strokeWidth": 1, "opacity": 1},
             "encoding": {
              "x": {"field": "wt", "type": "quantitative", "scale": {"domain": [0.28, 0.82], "nice": false, "zero": false}, "axis": {"title": null, "values": [0.3,0.4,0.5,0.6,0.7,0.8], "format": ".1f", "labelFont": "DejaVu Sans", "labelFontSize": 16}},
              "y": {"field": "mut", "type": "quantitative", "scale": {"domain": [0.28, 0.82], "nice": false, "zero": false}, "axis": {"title": null, "values": [0.3,0.4,0.5,0.6,0.7,0.8], "labels": false}},
              "color": {"field": "model", "type": "nominal", "scale": {"domain": ["Boost-Km","DLKcat","DeepEnzyme","TurNuP","CataPro","DLTKcat","EITLEM-Kinetics","UniKP"], "range": ["#2c5f8c","#0a1e5e","#6cb4e8","#2468b4","#dd8fe8","#c40f16","#a2d0a0","#ef6c0c"]}, "legend": null}
             }},
            {"data": {"name": "e"}, "transform": [{"filter": "datum.g == 'kk' && datum.lab"}],
             "mark": {"type": "text", "align": "left", "dx": -5, "dy": -13, "fontSize": 12, "color": "#ef6c0c"},
             "encoding": {"x": {"field": "wt", "type": "quantitative"}, "y": {"field": "mut", "type": "quantitative"}, "text": {"field": "lab"}}}
           ]}
         ]
        },
        {
         "title": {"text": "F", "anchor": "start", "frame": "bounds", "fontSize": 18, "fontWeight": "bold", "offset": -16, "dx": -6},
         "bounds": "flush", "spacing": 20,
         "hconcat": [
          {"width": 320, "height": 228, "title": {"text": "𝑘cat", "fontSize": 16, "offset": 8},
           "data": {"name": "f"}, "transform": [{"filter": "datum.g == 'kcat'"}],
           "encoding": {
            "x": {"field": "site", "type": "quantitative", "scale": {"domain": [0.5, 6.5], "nice": false, "zero": false}, "axis": {"title": null, "values": [1,2,3,4,5,6], "format": "d", "labelFontSize": 10}},
            "y": {"field": "r2", "type": "quantitative", "scale": {"domain": [0, 1.05], "nice": false}, "axis": {"title": "R²", "values": [0,0.2,0.4,0.6,0.8,1.0], "format": ".1f", "labelFontSize": 12, "titleFontSize": 12}},
            "color": {"field": "model", "type": "nominal", "scale": {"domain": ["Boost-Km","DLKcat","DeepEnzyme","TurNuP","CataPro","DLTKcat","EITLEM-Kinetics","UniKP"], "range": ["#2c5f8c","#0a1e5e","#6cb4e8","#2468b4","#dd8fe8","#c40f16","#a2d0a0","#ef6c0c"]},
             "legend": {"orient": "none", "legendX": 92, "legendY": 270, "direction": "horizontal", "columns": 4, "title": null, "symbolType": "M-1,-0.38H1V0.38H-1Z", "symbolSize": 1100, "symbolStrokeWidth": 0, "labelFontSize": 13, "labelFont": "DejaVu Sans", "labelOffset": 11, "columnPadding": 12, "rowPadding": 8, "labelLimit": 400, "labelExpr": "datum.label == 'Boost-Km' ? 'Boost-Km (Kₘ)' : datum.label == 'CataPro' ? 'CataPro (kcat, Kₘ, kcat/Kₘ)' : datum.label == 'EITLEM-Kinetics' ? 'EITLEM-Kinetics (kcat, Kₘ, kcat/Kₘ)' : datum.label == 'UniKP' ? 'UniKP (kcat, Kₘ, kcat/Kₘ)' : datum.label + ' (kcat)'"}}
           },
           "layer": [
            {"mark": {"type": "line", "strokeWidth": 2}},
            {"mark": {"type": "circle", "size": 45, "opacity": 1}}
           ]},
          {"width": 320, "height": 228, "title": {"text": "𝐾ₘ", "fontSize": 16, "offset": 8},
           "data": {"name": "f"}, "transform": [{"filter": "datum.g == 'Km'"}],
           "encoding": {
            "x": {"field": "site", "type": "quantitative", "scale": {"domain": [0.5, 6.5], "nice": false, "zero": false}, "axis": {"title": "Mutant sites", "values": [1,2,3,4,5,6], "format": "d", "labelFontSize": 10, "titleFontSize": 12, "titlePadding": 8}},
            "y": {"field": "r2", "type": "quantitative", "scale": {"domain": [0, 1.05], "nice": false}, "axis": {"title": null, "values": [0,0.2,0.4,0.6,0.8,1.0], "labels": false}},
            "color": {"field": "model", "type": "nominal", "scale": {"domain": ["Boost-Km","DLKcat","DeepEnzyme","TurNuP","CataPro","DLTKcat","EITLEM-Kinetics","UniKP"], "range": ["#2c5f8c","#0a1e5e","#6cb4e8","#2468b4","#dd8fe8","#c40f16","#a2d0a0","#ef6c0c"]},
             "legend": {"orient": "none", "legendX": 92, "legendY": 270, "direction": "horizontal", "columns": 4, "title": null, "symbolType": "M-1,-0.38H1V0.38H-1Z", "symbolSize": 1100, "symbolStrokeWidth": 0, "labelFontSize": 13, "labelFont": "DejaVu Sans", "labelOffset": 11, "columnPadding": 12, "rowPadding": 8, "labelLimit": 400, "labelExpr": "datum.label == 'Boost-Km' ? 'Boost-Km (Kₘ)' : datum.label == 'CataPro' ? 'CataPro (kcat, Kₘ, kcat/Kₘ)' : datum.label == 'EITLEM-Kinetics' ? 'EITLEM-Kinetics (kcat, Kₘ, kcat/Kₘ)' : datum.label == 'UniKP' ? 'UniKP (kcat, Kₘ, kcat/Kₘ)' : datum.label + ' (kcat)'"}}
           },
           "layer": [
            {"mark": {"type": "line", "strokeWidth": 2}},
            {"mark": {"type": "circle", "size": 45, "opacity": 1}}
           ]},
          {"width": 320, "height": 228, "title": {"text": "𝑘cat/𝐾ₘ", "fontSize": 16, "offset": 8},
           "data": {"name": "f"}, "transform": [{"filter": "datum.g == 'kk'"}],
           "encoding": {
            "x": {"field": "site", "type": "quantitative", "scale": {"domain": [0.5, 6.5], "nice": false, "zero": false}, "axis": {"title": null, "values": [1,2,3,4,5,6], "format": "d", "labelFontSize": 10}},
            "y": {"field": "r2", "type": "quantitative", "scale": {"domain": [0, 1.05], "nice": false}, "axis": {"title": null, "values": [0,0.2,0.4,0.6,0.8,1.0], "labels": false}},
            "color": {"field": "model", "type": "nominal", "scale": {"domain": ["Boost-Km","DLKcat","DeepEnzyme","TurNuP","CataPro","DLTKcat","EITLEM-Kinetics","UniKP"], "range": ["#2c5f8c","#0a1e5e","#6cb4e8","#2468b4","#dd8fe8","#c40f16","#a2d0a0","#ef6c0c"]},
             "legend": {"orient": "none", "legendX": 92, "legendY": 270, "direction": "horizontal", "columns": 4, "title": null, "symbolType": "M-1,-0.38H1V0.38H-1Z", "symbolSize": 1100, "symbolStrokeWidth": 0, "labelFontSize": 13, "labelFont": "DejaVu Sans", "labelOffset": 11, "columnPadding": 12, "rowPadding": 8, "labelLimit": 400, "labelExpr": "datum.label == 'Boost-Km' ? 'Boost-Km (Kₘ)' : datum.label == 'CataPro' ? 'CataPro (kcat, Kₘ, kcat/Kₘ)' : datum.label == 'EITLEM-Kinetics' ? 'EITLEM-Kinetics (kcat, Kₘ, kcat/Kₘ)' : datum.label == 'UniKP' ? 'UniKP (kcat, Kₘ, kcat/Kₘ)' : datum.label + ' (kcat)'"}}
           },
           "layer": [
            {"mark": {"type": "line", "strokeWidth": 2}},
            {"mark": {"type": "circle", "size": 45, "opacity": 1}}
           ]}
         ]
        }
       ]
      }
     ]
    }
   ]
  }
 ]
}
